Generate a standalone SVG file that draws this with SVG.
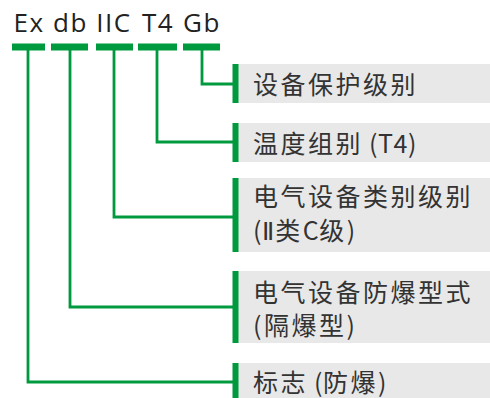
<svg xmlns="http://www.w3.org/2000/svg" width="490" height="398" viewBox="0 0 490 398">
<style>
.title{font-family:"Open Sans","Noto Sans",sans-serif;font-size:26px;fill:#222;text-anchor:middle;letter-spacing:1.5px}
.bar{fill:#009a3e}
.box{fill:#e8e8e8}
.lbl{font-family:"Noto Sans CJK SC","Noto Sans",sans-serif;font-size:25px;fill:#333;letter-spacing:2.5px}
.lat{letter-spacing:0.5px}
.rom{font-family:"DejaVu Sans","Noto Sans",sans-serif;letter-spacing:1px}
.conn{fill:none;stroke:#009a3e;stroke-width:2.8}
</style>
<rect width="490" height="398" fill="#fff"/>
<g id="code">
<text class="title" x="29" y="32">Ex</text>
<text class="title" x="70.5" y="32">db</text>
<text class="title" x="114" y="32">IIC</text>
<text class="title" x="158" y="32">T4</text>
<text class="title" x="202" y="32">Gb</text>
<rect class="bar" x="12" y="43.5" width="33" height="7"/>
<rect class="bar" x="51" y="43.5" width="37" height="7"/>
<rect class="bar" x="96" y="43.5" width="37" height="7"/>
<rect class="bar" x="138" y="43.5" width="39" height="7"/>
<rect class="bar" x="183" y="43.5" width="37" height="7"/>
</g>
<g id="connectors">
<polyline class="conn" points="202,50 202,84 234,84"/>
<polyline class="conn" points="157,50 157,142 234,142"/>
<polyline class="conn" points="114,50 114,217 234,217"/>
<polyline class="conn" points="70,50 70,307 234,307"/>
<polyline class="conn" points="28,50 28,382 234,382"/>
</g>
<g id="node-gb">
<rect class="box" x="238" y="64" width="252" height="39"/>
<rect class="bar" x="232.5" y="64" width="6" height="39"/>
<text class="lbl" x="253" y="94">设备保护级别</text>
</g>
<g id="node-t4">
<rect class="box" x="238" y="123" width="252" height="39"/>
<rect class="bar" x="232.5" y="123" width="6" height="39"/>
<text class="lbl" x="253" y="153">温度组别<tspan class="lat"> (T4)</tspan></text>
</g>
<g id="node-iic">
<rect class="box" x="238" y="178" width="252" height="74"/>
<rect class="bar" x="232.5" y="178" width="6" height="74"/>
<text class="lbl" x="253" y="206">电气设备类别级别</text>
<text class="lbl" x="253" y="240"><tspan class="lat">(</tspan><tspan class="rom">Ⅱ</tspan>类<tspan class="lat">C</tspan>级)</text>
</g>
<g id="node-db">
<rect class="box" x="238" y="271" width="252" height="72"/>
<rect class="bar" x="232.5" y="271" width="6" height="72"/>
<text class="lbl" x="253" y="302">电气设备防爆型式</text>
<text class="lbl" x="253" y="335">(隔爆型)</text>
</g>
<g id="node-ex">
<rect class="box" x="238" y="363" width="252" height="40"/>
<rect class="bar" x="232.5" y="363" width="6" height="40"/>
<text class="lbl" x="253" y="392">标志<tspan class="lat"> (</tspan>防爆)</text>
</g>
</svg>
